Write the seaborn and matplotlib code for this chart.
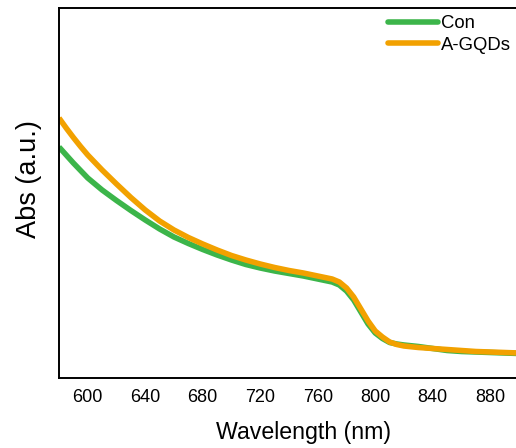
import matplotlib
matplotlib.use("Agg")
import matplotlib.pyplot as plt
from matplotlib.lines import Line2D
import seaborn as sns
import pandas as pd

# Wavelength (nm) and absorbance (a.u.)
wavelength = [580, 585, 590, 595, 600, 610, 620, 630, 640, 650, 660, 670, 680, 690, 700,
              710, 720, 730, 740, 750, 760, 765, 770, 775, 780, 785, 790, 795, 800, 805,
              810, 815, 820, 830, 840, 850, 860, 870, 880, 890, 900]
abs_con = [2.31, 2.23, 2.15, 2.075, 2.00, 1.88, 1.775, 1.675, 1.58, 1.49, 1.41, 1.345, 1.285, 1.23, 1.18,
           1.135, 1.10, 1.07, 1.045, 1.02, 0.99, 0.975, 0.96, 0.93, 0.87, 0.78, 0.66, 0.54, 0.45, 0.395,
           0.355, 0.34, 0.33, 0.315, 0.295, 0.275, 0.265, 0.26, 0.255, 0.25, 0.245]
abs_gqd = [2.60, 2.50, 2.405, 2.315, 2.23, 2.08, 1.94, 1.805, 1.68, 1.57, 1.48, 1.405, 1.34, 1.28, 1.225,
           1.18, 1.14, 1.105, 1.075, 1.05, 1.02, 1.005, 0.99, 0.96, 0.90, 0.81, 0.69, 0.57, 0.47, 0.41,
           0.36, 0.335, 0.32, 0.305, 0.295, 0.285, 0.275, 0.265, 0.26, 0.255, 0.25]
series_names = ["Con", "A-GQDs"]
colors = ["#3cb54a", "#f2a100"]
xticks = [600, 640, 680, 720, 760, 800, 840, 880]

df = pd.concat([
    pd.DataFrame({"wl": wavelength, "abs": abs_con, "sample": series_names[0]}),
    pd.DataFrame({"wl": wavelength, "abs": abs_gqd, "sample": series_names[1]}),
])

sns.set_style("white")
plt.rcParams["font.family"] = ["Liberation Sans", "DejaVu Sans"]
plt.rcParams["text.color"] = "black"
plt.rcParams["axes.labelcolor"] = "black"
plt.rcParams["xtick.color"] = "black"
plt.rcParams["ytick.color"] = "black"

fig = plt.figure(figsize=(5.16, 4.48), dpi=100)
ax = fig.add_axes([59 / 516, 1 - 378 / 448, 460 / 516, 370 / 448])

sns.lineplot(data=df, x="wl", y="abs", hue="sample", palette=colors,
             hue_order=series_names, linewidth=4, ax=ax, legend=False, sort=True)
for ln in ax.get_lines():
    ln.set_solid_joinstyle("round")
    ln.set_solid_capstyle("butt")

ax.set_xlim(580, 900)
ax.set_ylim(0, 3.70)
ax.set_xticks(xticks)
ax.set_yticks([])
ax.tick_params(axis="x", direction="out", length=5, width=1.3, labelsize=13, pad=3,
               color="black", labelcolor="black")
for s in ax.spines.values():
    s.set_linewidth(1.4)
    s.set_color("black")
ax.set_xlabel("Wavelength (nm)", fontsize=16.7, color="black")
ax.set_ylabel("Abs (a.u.)", fontsize=19.5, color="black")
ax.xaxis.set_label_coords((303 - 59) / 460, -(432 - 378) / 370, transform=ax.transAxes)
ax.xaxis.label.set_va("center")
ax.yaxis.set_label_coords(-(59 - 29) / 460, (378 - 179) / 370, transform=ax.transAxes)
ax.yaxis.label.set_va("center")

handles = [Line2D([0], [0], color=c, lw=4) for c in colors]
fig.legend(handles, series_names, loc="upper left", bbox_to_anchor=(388 / 516, 1 - 15 / 448),
           frameon=False, fontsize=13.3, handlelength=2.7, handletextpad=0.18,
           labelspacing=0.25, borderpad=0, borderaxespad=0, labelcolor="black")

fig.savefig("out.png", dpi=100)
